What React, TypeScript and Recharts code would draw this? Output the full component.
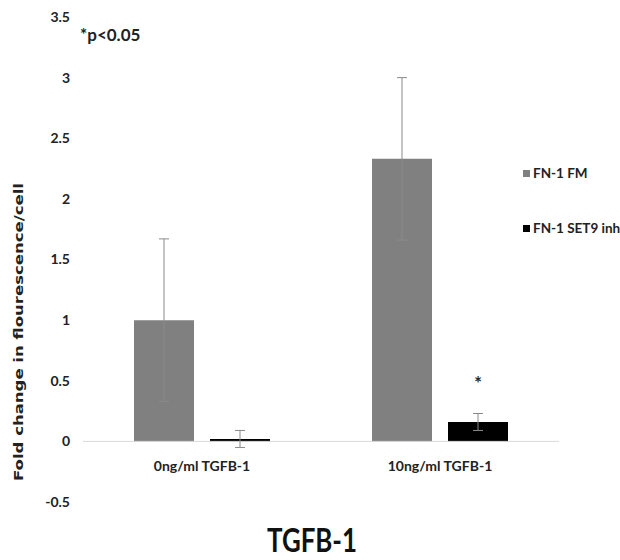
import React from 'react';
import {
  BarChart,
  Bar,
  XAxis,
  YAxis,
  ErrorBar,
  ReferenceLine,
  Legend,
  Label,
  LabelList,
  Customized,
} from 'recharts';

const categories = ['0ng/ml TGFB-1', '10ng/ml TGFB-1'];
const fmValues = [1.0, 2.33];
const fmErrors = [0.67, 0.67];
const inhValues = [0.02, 0.16];
const inhErrors = [0.07, 0.07];
const sigMarks = ['', '*'];
const yTicks = [-0.5, 0, 0.5, 1, 1.5, 2, 2.5, 3, 3.5];

const data = categories.map((name, i) => ({
  name,
  fm: fmValues[i],
  fmErr: fmErrors[i],
  inh: inhValues[i],
  inhErr: inhErrors[i],
  sig: sigMarks[i],
}));

const FONT = 'Lato, "Open Sans", sans-serif';

const CategoryTick = (props: any) => {
  const { x, y, payload } = props;
  return (
    <text x={x} y={y - 31} textAnchor="middle" fontFamily={FONT} fontSize={14} fontWeight={700} fill="#222">
      {payload.value}
    </text>
  );
};

const SigLabel = (props: any) => {
  const { x, y, width, value } = props;
  if (!value) return null;
  return (
    <text x={x + width / 2} y={y - 32} textAnchor="middle" fontFamily={FONT} fontSize={19} fontWeight={700} fill="#2a2a2a">
      {value}
    </text>
  );
};

const LegendBox = (props: any) => {
  const { payload } = props;
  return (
    <div style={{ fontFamily: FONT, fontSize: 13.5, fontWeight: 700, color: '#222', whiteSpace: 'nowrap' }}>
      {payload.map((p: any, i: number) => (
        <div key={i} style={{ display: 'flex', alignItems: 'center', height: 16, marginBottom: i === 0 ? 39 : 0 }}>
          <span
            style={{
              width: 7,
              height: 7,
              minWidth: 7,
              flexShrink: 0,
              background: p.color,
              display: 'inline-block',
              marginRight: 3,
            }}
          />
          <span>{p.value}</span>
        </div>
      ))}
    </div>
  );
};

export default function App() {
  return (
    <div style={{ position: 'absolute', left: 0, top: 0, width: 620, height: 560, background: '#fff' }}>
      <BarChart
        width={620}
        height={560}
        data={data}
        margin={{ top: 17, right: 61, bottom: 0, left: 0 }}
        barSize={60}
        barGap={16}
      >
        <YAxis
          width={83}
          domain={[-0.5, 3.5]}
          ticks={yTicks}
          axisLine={false}
          tickLine={false}
          tickSize={0}
          tickMargin={13}
          interval={0}
          tick={{ fontFamily: FONT, fontSize: 14, fontWeight: 700, fill: '#222' }}
        >
          <Label
            content={() => (
              <text
                transform="translate(23,332) rotate(-90)"
                textAnchor="middle"
                fontFamily="DejaVu Sans"
                fontSize={13}
                fontWeight={700}
                fill="#222"
                textLength={298}
                lengthAdjust="spacingAndGlyphs"
              >
                Fold change in flourescence/cell
              </text>
            )}
          />
        </YAxis>
        <XAxis
          dataKey="name"
          height={58}
          axisLine={false}
          tickLine={false}
          tickSize={0}
          tickMargin={0}
          tick={<CategoryTick />}
        >
          <Label
            content={() => (
              <text
                x={312}
                y={552}
                textAnchor="middle"
                fontFamily={FONT}
                fontSize={33}
                fontWeight={700}
                fill="#111"
                textLength={90}
                lengthAdjust="spacingAndGlyphs"
              >
                TGFB-1
              </text>
            )}
          />
        </XAxis>
        <ReferenceLine y={0} stroke="#d9d9d9" strokeWidth={1} />
        <Legend
          layout="vertical"
          verticalAlign="top"
          align="right"
          wrapperStyle={{ position: 'absolute', left: 523, top: 165, width: 0, height: 0, overflow: 'visible' }}
          content={<LegendBox />}
        />
        <Bar dataKey="fm" name="FN-1 FM" fill="#808080" isAnimationActive={false}>
          <ErrorBar dataKey="fmErr" direction="y" width={5} stroke="#8a8a8a" strokeWidth={1} />
        </Bar>
        <Bar dataKey="inh" name="FN-1 SET9 inh" fill="#000000" isAnimationActive={false}>
          <ErrorBar dataKey="inhErr" direction="y" width={5} stroke="#8a8a8a" strokeWidth={1} />
          <LabelList dataKey="sig" content={<SigLabel />} />
        </Bar>
        <Customized
          component={() => (
            <text x={80} y={41} fontFamily={FONT} fontSize={17} fontWeight={700} fill="#222">
              *p&lt;0.05
            </text>
          )}
        />
      </BarChart>
    </div>
  );
}
